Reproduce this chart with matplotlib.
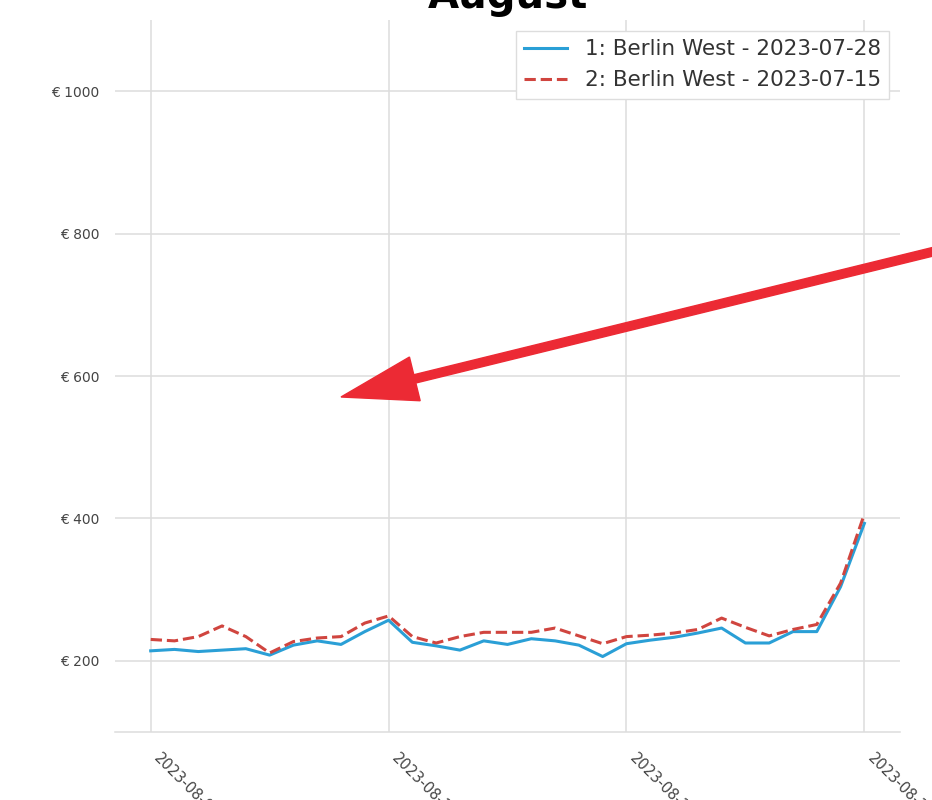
import pandas as pd
import matplotlib
matplotlib.use("Agg")
import matplotlib.pyplot as plt
import matplotlib.dates as mdates
from matplotlib.patches import FancyArrow

# Preise pro Tag im August
days = pd.date_range("2023-08-01", "2023-08-31", freq="D")
price_0728 = [214, 216, 213, 215, 217, 208, 222, 228, 223, 241,
              257, 226, 221, 215, 228, 223, 231, 228, 222, 206,
              224, 229, 233, 239, 246, 225, 225, 241, 241, 304, 393]
price_0715 = [230, 228, 234, 249, 234, 211, 227, 232, 234, 253,
              263, 234, 225, 234, 240, 240, 240, 246, 235, 224,
              234, 236, 239, 244, 260, 247, 235, 244, 251, 309, 406]
labels = ["1: Berlin West - 2023-07-28", "2: Berlin West - 2023-07-15"]
y_ticks = [200, 400, 600, 800, 1000]
x_ticks = days[::10]

fig = plt.figure(figsize=(9.32, 8), dpi=100)
ax = fig.add_axes([0.1234, 0.085, 0.8423, 0.89])

ax.plot(days, price_0728, color="#2a9fd6", lw=2.2, label=labels[0])
ax.plot(days, price_0715, color="#d0453f", lw=2.2, ls="--", label=labels[1])

ax.set_ylim(100, 1100)
ax.set_yticks(y_ticks)
ax.set_yticklabels(["€ %d" % v for v in y_ticks])
ax.set_xticks(x_ticks)
ax.xaxis.set_major_formatter(mdates.DateFormatter("%Y-%m-%d"))

ax.grid(True, color="#dddddd", lw=1.1)
ax.set_axisbelow(True)
for s in ["left", "right", "top"]:
    ax.spines[s].set_visible(False)
ax.spines["bottom"].set_color("#dddddd")
ax.spines["bottom"].set_linewidth(1.1)

ax.tick_params(axis="y", length=0, pad=11, labelsize=10, labelcolor="#444444")
ax.tick_params(axis="x", length=0, pad=13, labelsize=10.5, labelcolor="#444444")
for t in ax.get_xticklabels():
    t.set_rotation(-45)
    t.set_ha("left")

ax.set_title("August", fontsize=29, fontweight="bold", pad=8.6)

leg = ax.legend(loc="upper right", fontsize=15.5, framealpha=1,
                fancybox=False, edgecolor="#dddddd")
for t in leg.get_texts():
    t.set_color("#333333")

# roter Pfeil (Markierung)
arrow = FancyArrow(9.40, 5.50, -5.99, -1.47, width=0.085, head_width=0.45,
                   head_length=0.76, length_includes_head=True,
                   color="#ec2a34", transform=fig.dpi_scale_trans,
                   clip_on=False)
fig.patches.append(arrow)

fig.savefig("out.png", dpi=100)
